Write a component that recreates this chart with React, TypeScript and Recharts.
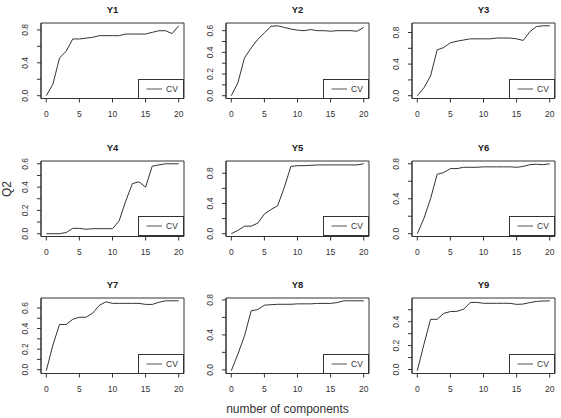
import React from 'react';
import { LineChart, Line, XAxis, YAxis, Legend, ReferenceArea } from 'recharts';

// ---------- data ----------
const components = [0, 1, 2, 3, 4, 5, 6, 7, 8, 9, 10, 11, 12, 13, 14, 15, 16, 17, 18, 19, 20];
const titles = ['Y1', 'Y2', 'Y3', 'Y4', 'Y5', 'Y6', 'Y7', 'Y8', 'Y9'];
const seriesName = 'CV';

const y1 = [0.0, 0.14, 0.46, 0.54, 0.69, 0.69, 0.7, 0.71, 0.73, 0.73, 0.73, 0.73, 0.75, 0.75, 0.75, 0.75, 0.77, 0.79, 0.79, 0.755, 0.85];
const y2 = [0.0, 0.12, 0.35, 0.44, 0.52, 0.58, 0.64, 0.645, 0.63, 0.615, 0.605, 0.6, 0.61, 0.6, 0.6, 0.595, 0.6, 0.6, 0.6, 0.595, 0.63];
const y3 = [0.0, 0.1, 0.25, 0.58, 0.61, 0.67, 0.69, 0.705, 0.72, 0.72, 0.72, 0.72, 0.73, 0.73, 0.73, 0.72, 0.7, 0.81, 0.875, 0.885, 0.885];
const y4 = [0.0, 0.0, 0.0, 0.01, 0.046, 0.046, 0.038, 0.043, 0.043, 0.043, 0.043, 0.11, 0.28, 0.43, 0.445, 0.4, 0.58, 0.59, 0.6, 0.6, 0.6];
const y5 = [0.0, 0.045, 0.1, 0.1, 0.14, 0.26, 0.32, 0.37, 0.61, 0.89, 0.9, 0.9, 0.905, 0.91, 0.91, 0.91, 0.91, 0.91, 0.91, 0.91, 0.925];
const y6 = [0.0, 0.175, 0.4, 0.68, 0.7, 0.745, 0.745, 0.76, 0.76, 0.76, 0.765, 0.765, 0.765, 0.765, 0.765, 0.76, 0.77, 0.79, 0.795, 0.79, 0.8];
const y7 = [-0.01, 0.24, 0.44, 0.44, 0.49, 0.51, 0.51, 0.55, 0.625, 0.66, 0.645, 0.645, 0.645, 0.645, 0.645, 0.635, 0.635, 0.655, 0.67, 0.67, 0.67];
const y8 = [-0.01, 0.18, 0.39, 0.675, 0.69, 0.74, 0.745, 0.75, 0.75, 0.75, 0.755, 0.755, 0.755, 0.76, 0.76, 0.76, 0.77, 0.79, 0.79, 0.79, 0.79];
const y9 = [-0.01, 0.21, 0.42, 0.42, 0.47, 0.485, 0.487, 0.505, 0.56, 0.562, 0.554, 0.554, 0.554, 0.554, 0.554, 0.545, 0.548, 0.56, 0.57, 0.573, 0.575];

const xTicks = [0, 5, 10, 15, 20];
const ticksBy2 = [0, 0.2, 0.4, 0.6, 0.8];
const labelsBy4 = [0, 0.4, 0.8];
const ticksTo06 = [0, 0.1, 0.2, 0.3, 0.4, 0.5, 0.6];
const labelsTo06 = [0, 0.2, 0.4, 0.6];
const ticksTo05 = [0, 0.1, 0.2, 0.3, 0.4, 0.5];
const labelsTo04 = [0, 0.2, 0.4];

const xLabel = 'number of components';
const yLabel = 'Q2';

// ---------- layout ----------
const COL_LEFT = [40.7, 226.4, 412.3];
const ROW_TOP = [23, 160.5, 298];
const BOX_W = 143;
const BOX_H = 75.5;
const CHART_W = 185;
const CHART_H = 135;
const PAD_L = 40;
const PAD_T = 23;
const Y_AXIS_W = 30;
const X_AXIS_H = 30;
const INK = '#333';

const panels = [
  { title: titles[0], values: y1, ticks: ticksBy2, labels: labelsBy4 },
  { title: titles[1], values: y2, ticks: ticksTo06, labels: labelsTo06 },
  { title: titles[2], values: y3, ticks: ticksBy2, labels: labelsBy4 },
  { title: titles[3], values: y4, ticks: ticksTo06, labels: labelsTo06 },
  { title: titles[4], values: y5, ticks: ticksBy2, labels: labelsBy4 },
  { title: titles[5], values: y6, ticks: ticksBy2, labels: labelsBy4 },
  { title: titles[6], values: y7, ticks: ticksTo06, labels: labelsTo06 },
  { title: titles[7], values: y8, ticks: ticksBy2, labels: labelsBy4 },
  { title: titles[8], values: y9, ticks: ticksTo05, labels: labelsTo04 },
];

const padDomain = (arr: number[]): [number, number] => {
  const mn = Math.min(...arr);
  const mx = Math.max(...arr);
  const d = mx - mn;
  return [mn - 0.04 * d, mx + 0.04 * d];
};
const X_DOMAIN: [number, number] = [-0.8, 20.8];

const XTick = (props: any) => {
  const { x, y, payload } = props;
  return (
    <text x={x} y={y} textAnchor="middle" dy="0.35em" fontSize={8.5} fill={INK}>
      {payload.value}
    </text>
  );
};

const makeYTick = (labels: number[]) => (props: any) => {
  const { x, y, payload } = props;
  const v = payload.value as number;
  const show = labels.some((l) => Math.abs(l - v) < 1e-9);
  if (!show) return <g />;
  return (
    <text
      x={x}
      y={y}
      transform={`rotate(-90 ${x} ${y})`}
      textAnchor="middle"
      dy="0.35em"
      fontSize={8.5}
      fill={INK}
    >
      {v.toFixed(1)}
    </text>
  );
};

const LegendBox = () => (
  <div
    style={{
      width: 46,
      height: 20,
      boxSizing: 'border-box',
      border: `1px solid ${INK}`,
      background: '#fff',
      position: 'relative',
    }}
  >
    <svg width={44} height={18} style={{ position: 'absolute', left: 0, top: 0 }}>
      <line x1={7.5} x2={23} y1={9} y2={9} stroke="#555" strokeWidth={1} />
      <text x={33} y={9} dy="0.35em" textAnchor="middle" fontSize={8.5} fill={INK}>
        {seriesName}
      </text>
    </svg>
  </div>
);

const Panel = ({ p, col, row }: { p: any; col: number; row: number }) => {
  const data = components.map((c, i) => ({ comp: c, cv: p.values[i] }));
  const dom = padDomain(p.values);
  const left = COL_LEFT[col] - PAD_L;
  const top = ROW_TOP[row] - PAD_T;
  const margin = {
    left: PAD_L - Y_AXIS_W,
    top: PAD_T,
    right: CHART_W - PAD_L - BOX_W,
    bottom: CHART_H - PAD_T - BOX_H - X_AXIS_H,
  };
  return (
    <div style={{ position: 'absolute', left, top, width: CHART_W, height: CHART_H }}>
      <LineChart width={CHART_W} height={CHART_H} data={data} margin={margin}>
        <XAxis
          xAxisId="b"
          dataKey="comp"
          type="number"
          domain={X_DOMAIN}
          ticks={xTicks}
          interval={0}
          height={X_AXIS_H}
          tickSize={4}
          tickMargin={12}
          tick={XTick}
          stroke={INK}
          axisLine={{ stroke: INK }}
          tickLine={{ stroke: INK }}
        />
        <YAxis
          yAxisId="l"
          type="number"
          domain={dom}
          ticks={p.ticks}
          interval={0}
          width={Y_AXIS_W}
          tickSize={4}
          tickMargin={12}
          tick={makeYTick(p.labels)}
          axisLine={{ stroke: INK }}
          tickLine={{ stroke: INK }}
        />
        <ReferenceArea
          xAxisId="b"
          yAxisId="l"
          x1={X_DOMAIN[0]}
          x2={X_DOMAIN[1]}
          y1={dom[0]}
          y2={dom[1]}
          fill="none"
          fillOpacity={0}
          stroke={INK}
          strokeWidth={1}
          ifOverflow="visible"
          label={{ value: p.title, position: 'top', offset: 9.8, fontSize: 9.5, fontWeight: 'bold', fill: '#222' }}
        />
        <Legend
          layout="vertical"
          align="center"
          verticalAlign="middle"
          content={LegendBox}
          wrapperStyle={{ left: PAD_L + BOX_W - 46, top: PAD_T + BOX_H - 20, width: 46, height: 20 }}
        />
        <Line
          xAxisId="b"
          yAxisId="l"
          type="linear"
          dataKey="cv"
          name={seriesName}
          stroke="#333"
          strokeWidth={1}
          dot={false}
          activeDot={false}
          isAnimationActive={false}
        />
      </LineChart>
    </div>
  );
};

export default function App() {
  return (
    <div
      style={{
        position: 'absolute',
        left: 0,
        top: 0,
        width: 561,
        height: 418,
        background: '#fff',
        fontFamily: '"Liberation Sans", Arial, sans-serif',
        overflow: 'hidden',
      }}
    >
      <svg width={561} height={418} style={{ position: 'absolute', left: 0, top: 0 }}>
        <text x={287.5} y={409} dy="0.35em" textAnchor="middle" fontSize={12} fill={INK}>
          {xLabel}
        </text>
        <text
          x={7}
          y={189}
          transform="rotate(-90 7 189)"
          dy="0.35em"
          textAnchor="middle"
          fontSize={12}
          fill={INK}
        >
          {yLabel}
        </text>
      </svg>
      {panels.map((p, i) => (
        <Panel key={p.title} p={p} col={i % 3} row={Math.floor(i / 3)} />
      ))}
    </div>
  );
}
